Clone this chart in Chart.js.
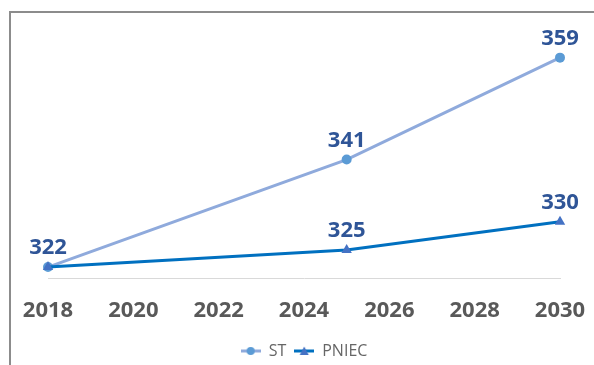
<!DOCTYPE html>
<html>
<head>
<meta charset="utf-8">
<script src="https://cdn.jsdelivr.net/npm/chart.js@4/dist/chart.umd.min.js"></script>
<style>
  body { margin: 0; background: #fff; }
  #wrap { position: relative; width: 594px; height: 365px; overflow: hidden; }
  #frame { position: absolute; left: 9px; top: 11px; width: 700px; height: 400px;
           border-left: 2px solid #8c8c8c; border-top: 2px solid #8c8c8c; }
  #myChart { position: absolute; left: 0; top: 0; }
</style>
</head>
<body>
<div id="wrap">
  <div id="frame"></div>
  <canvas id="myChart" width="594" height="369"></canvas>
</div>
<script>
// valeurs ST / PNIEC
const years = [2018, 2025, 2030];
const valST = [322, 341, 359];
const valPNIEC = [322, 325, 330];
const seriesNames = ['ST', 'PNIEC'];

const lineColors = ['#8FAADC', '#0070C0'];
const markColors = ['#5B9BD5', '#4472C4'];
const markStyles = ['circle', 'triangle'];
const markSizes = [5, 6];

// petite image pour la legende : trait + marqueur
function legendIcon(i) {
  const c = document.createElement('canvas');
  c.width = 20;
  c.height = 10;
  const g = c.getContext('2d');
  g.strokeStyle = lineColors[i];
  g.lineWidth = 3;
  g.beginPath();
  g.moveTo(0, 5);
  g.lineTo(20, 5);
  g.stroke();
  g.fillStyle = markColors[i];
  g.beginPath();
  if (i == 0) {
    g.arc(10, 5, 4, 0, Math.PI * 2);
  } else {
    g.moveTo(10, 0.5);
    g.lineTo(14.5, 9);
    g.lineTo(5.5, 9);
    g.closePath();
  }
  g.fill();
  return c;
}

// etiquettes de valeur au-dessus des points
const valueLabels = {
  id: 'valueLabels',
  afterDatasetsDraw(chart) {
    const ctx = chart.ctx;
    const done = {};
    ctx.save();
    ctx.font = 'bold 22px "Open Sans"';
    ctx.fillStyle = '#2F5597';
    ctx.textAlign = 'center';
    ctx.textBaseline = 'alphabetic';
    chart.data.datasets.forEach((ds, i) => {
      const meta = chart.getDatasetMeta(i);
      meta.data.forEach((pt, j) => {
        const key = Math.round(pt.x) + '_' + Math.round(pt.y);
        if (done[key]) return;
        done[key] = true;
        ctx.fillText(ds.data[j].y, pt.x, pt.y - 13);
      });
    });
    ctx.restore();
  }
};

function toPoints(vals) {
  return years.map((x, k) => ({ x: x, y: vals[k] }));
}

const ctx = document.getElementById('myChart');

const myChart = new Chart(ctx, {
  type: 'line',
  data: {
    datasets: [valST, valPNIEC].map((vals, i) => ({
      label: seriesNames[i],
      data: toPoints(vals),
      borderColor: lineColors[i],
      backgroundColor: markColors[i],
      pointBackgroundColor: markColors[i],
      pointBorderWidth: 0,
      pointStyle: markStyles[i],
      pointRadius: markSizes[i],
      borderWidth: 3,
      tension: 0,
      clip: false,
      order: 1 - i
    }))
  },
  options: {
    responsive: false,
    animation: false,
    layout: { padding: { left: 48, right: 34, top: 52, bottom: 0 } },
    scales: {
      x: {
        type: 'linear',
        min: 2018,
        max: 2030,
        grid: {
          display: true,
          drawOnChartArea: false,
          drawTicks: true,
          tickLength: 17,
          color: 'rgba(0,0,0,0)'
        },
        border: { display: true, color: '#D9D9D9', width: 1 },
        ticks: {
          stepSize: 2,
          padding: 2,
          color: '#595959',
          font: { family: 'Open Sans', size: 22, weight: 'bold' },
          callback: (v) => String(v)
        }
      },
      y: {
        display: false,
        min: 320,
        max: 360
      }
    },
    plugins: {
      tooltip: { enabled: false },
      legend: {
        position: 'bottom',
        // titre vide : seulement pour l'espace au-dessus de la legende
        title: {
          display: true,
          text: ' ',
          font: { size: 1 },
          padding: { top: 0, bottom: 8 }
        },
        labels: {
          usePointStyle: true,
          pointStyleWidth: 20,
          padding: 8,
          color: '#595959',
          font: { family: 'Open Sans', size: 16 },
          generateLabels: (chart) => seriesNames.map((n, i) => ({
            text: n,
            pointStyle: legendIcon(i),
            fillStyle: markColors[i],
            strokeStyle: markColors[i],
            lineWidth: 0,
            datasetIndex: i
          }))
        }
      }
    }
  },
  plugins: [valueLabels]
});
</script>
</body>
</html>
